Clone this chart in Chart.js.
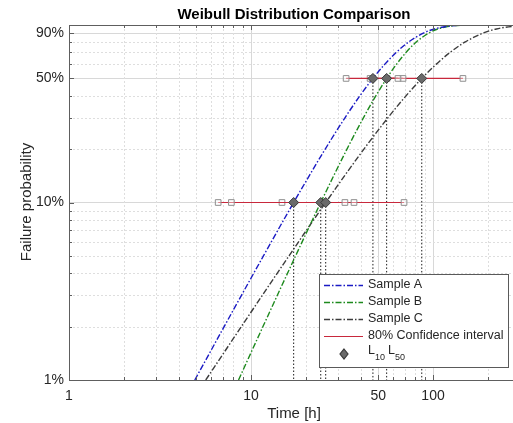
<!DOCTYPE html>
<html>
<head>
<meta charset="utf-8">
<script src="https://cdn.jsdelivr.net/npm/chart.js@4.4.0/dist/chart.umd.min.js"></script>
<style>
  html, body { margin: 0; padding: 0; background: #fff; }
  #wrap { width: 513px; height: 423px; }
</style>
</head>
<body>
<div id="wrap"><canvas id="weibull" width="513" height="423"></canvas></div>
<script>
// failure probability [%] where the fitted lines are sampled
var failPct = [1, 2, 5, 10, 20, 30, 40, 50, 60, 70, 80, 90, 95, 99, 99.9];
// time [h] of each fitted line at those probabilities
var timeA = [4.91, 7.12, 11.7, 17.15, 25.57, 32.82, 39.7, 46.74, 54.2, 62.7, 73.2, 88.5, 101.8, 128.0, 158.8];
var timeB = [8.54, 11.63, 17.57, 24.16, 33.67, 41.44, 48.59, 55.61, 62.9, 71.0, 80.7, 94.6, 106.3, 128.6, 153.8];
var timeC = [5.64, 8.85, 16.16, 25.72, 41.73, 56.5, 71.2, 86.7, 103.9, 123.9, 149.4, 188.3, 223.1, 294.5, 382.7];

var sampleNames = ['Sample A', 'Sample B', 'Sample C'];
// L10 / L50 lives [h]
var L10 = [17.15, 24.16, 25.72];
var L50 = [46.74, 55.61, 86.7];
// 80% confidence bounds [h]
var ci10Low = [7.8, 14.8, 6.6];
var ci10High = [32.8, 36.8, 69.3];
var ci50Low = [33.3, 45.1, 55.9];
var ci50High = [64.2, 68.4, 146];

var xRange = [1, 275];
var yRange = [1, 100];
var xTicks = [1, 10, 50, 100];
var yTicks = [1, 10, 50, 90];
var xMinor = [2, 3, 4, 5, 6, 7, 8, 9, 20, 30, 40, 60, 70, 80, 90, 200];
var yMinor = [2, 3, 4, 5, 6, 7, 8, 9, 20, 30, 40, 60, 70, 80];

var lineColors = ['#1a1ac4', '#1e8a1e', '#3c3c3c'];
var ciColor = '#c8283c';
var dashDot = [6, 2, 1.5, 2];
var txt = '#262626';
var fontFam = '"Liberation Sans", Arial, sans-serif';

var datasets = [];
[timeA, timeB, timeC].forEach(function (times, i) {
  datasets.push({
    label: sampleNames[i],
    data: times.map(function (t, k) { return { x: t, y: failPct[k] }; }),
    borderColor: lineColors[i],
    borderWidth: 1.4,
    borderDash: dashDot,
    pointRadius: 0,
    cubicInterpolationMode: 'monotone',
    order: 3
  });
});

// 80% confidence intervals at 10% and 50%
function ciSet(lo, hi, p) {
  return {
    data: [{ x: lo, y: p }, { x: hi, y: p }],
    borderColor: ciColor,
    borderWidth: 1.2,
    pointStyle: 'rect',
    pointRadius: 4,
    pointBorderWidth: 1,
    pointBorderColor: '#8f8f8f',
    pointBackgroundColor: 'rgba(255,255,255,0.4)',
    order: 1
  };
}
for (var i = 0; i < 3; i++) {
  datasets.push(ciSet(ci10Low[i], ci10High[i], 10));
  datasets.push(ciSet(ci50Low[i], ci50High[i], 50));
}

// dotted drop lines from each life down to the time axis
function dropSet(t, p) {
  return {
    data: [{ x: t, y: p }, { x: t, y: 1 }],
    borderColor: '#1a1a1a',
    borderWidth: 1,
    borderDash: [1.5, 2],
    pointRadius: 0,
    order: 4
  };
}
for (var i = 0; i < 3; i++) {
  datasets.push(dropSet(L10[i], 10));
  datasets.push(dropSet(L50[i], 50));
}

// L10 / L50 markers
var lifePts = [];
for (var i = 0; i < 3; i++) {
  lifePts.push({ x: L10[i], y: 10 });
  lifePts.push({ x: L50[i], y: 50 });
}
datasets.push({
  data: lifePts,
  showLine: false,
  pointStyle: 'rectRot',
  pointRadius: 5,
  pointBorderWidth: 1,
  pointBackgroundColor: '#6a6a6a',
  pointBorderColor: '#383838',
  order: 0
});

var decor = {
  id: 'decor',
  beforeDatasetsDraw: function (chart) {
    var ctx = chart.ctx, a = chart.chartArea;
    var xs = chart.scales.x, ys = chart.scales.y;
    ctx.save();
    ctx.strokeStyle = '#dedede';
    ctx.lineWidth = 1;
    ctx.setLineDash([2, 2]);
    xMinor.forEach(function (v) {
      var px = Math.round(xs.getPixelForValue(v)) + 0.5;
      ctx.beginPath(); ctx.moveTo(px, a.top); ctx.lineTo(px, a.bottom); ctx.stroke();
    });
    yMinor.forEach(function (v) {
      var py = Math.round(ys.getPixelForValue(v)) + 0.5;
      ctx.beginPath(); ctx.moveTo(a.left, py); ctx.lineTo(a.right, py); ctx.stroke();
    });
    ctx.restore();
  },
  afterDatasetsDraw: function (chart) {
    var ctx = chart.ctx, a = chart.chartArea;
    var xs = chart.scales.x, ys = chart.scales.y;
    ctx.save();
    ctx.strokeStyle = '#5e5e5e';
    ctx.lineWidth = 1;
    ctx.beginPath();
    ctx.moveTo(a.right, a.top + 0.5); ctx.lineTo(a.left + 0.5, a.top + 0.5);
    ctx.lineTo(a.left + 0.5, a.bottom + 0.5); ctx.lineTo(a.right, a.bottom + 0.5);
    ctx.stroke();
    // inward tick marks
    function xTick(v, len) {
      var px = Math.round(xs.getPixelForValue(v)) + 0.5;
      ctx.beginPath();
      ctx.moveTo(px, a.bottom); ctx.lineTo(px, a.bottom - len);
      ctx.moveTo(px, a.top); ctx.lineTo(px, a.top + len);
      ctx.stroke();
    }
    function yTick(v, len) {
      var py = Math.round(ys.getPixelForValue(v)) + 0.5;
      ctx.beginPath(); ctx.moveTo(a.left, py); ctx.lineTo(a.left + len, py); ctx.stroke();
    }
    xTicks.forEach(function (v) { xTick(v, 5); });
    xMinor.forEach(function (v) { xTick(v, 3); });
    yTicks.forEach(function (v) { yTick(v, 5); });
    yMinor.forEach(function (v) { yTick(v, 3); });
    ctx.restore();
  },
  afterDraw: function (chart) {
    var ctx = chart.ctx;
    ctx.save();
    ctx.fillStyle = '#000';
    ctx.font = 'bold 15px ' + fontFam;
    ctx.textAlign = 'center';
    ctx.textBaseline = 'middle';
    ctx.fillText('Weibull Distribution Comparison', 294, 15);
    ctx.fillStyle = txt;
    ctx.font = '15px ' + fontFam;
    ctx.fillText('Time [h]', 294, 414);
    ctx.translate(27, 202);
    ctx.rotate(-Math.PI / 2);
    ctx.fillText('Failure probability', 0, 0);
    ctx.restore();

    // legend
    ctx.save();
    var bx = 319.5, by = 274.5, bw = 189, bh = 93;
    ctx.fillStyle = '#fff';
    ctx.fillRect(bx, by, bw, bh);
    ctx.strokeStyle = '#5a5a5a';
    ctx.lineWidth = 1;
    ctx.strokeRect(bx, by, bw, bh);
    ctx.font = '12.5px ' + fontFam;
    ctx.textBaseline = 'middle';
    ctx.textAlign = 'left';
    var rowY = [285, 302, 319, 336];
    var names = sampleNames.concat(['80% Confidence interval']);
    var cols = lineColors.concat([ciColor]);
    for (var r = 0; r < 4; r++) {
      ctx.strokeStyle = cols[r];
      ctx.lineWidth = r < 3 ? 1.4 : 1.2;
      ctx.setLineDash(r < 3 ? dashDot : []);
      ctx.beginPath();
      ctx.moveTo(324, rowY[r] + 0.5); ctx.lineTo(363, rowY[r] + 0.5);
      ctx.stroke();
      ctx.fillStyle = txt;
      ctx.fillText(names[r], 368, rowY[r]);
    }
    ctx.setLineDash([]);
    // diamond entry
    var dy = 354, dx = 344;
    ctx.beginPath();
    ctx.moveTo(dx, dy - 5); ctx.lineTo(dx + 4, dy); ctx.lineTo(dx, dy + 5); ctx.lineTo(dx - 4, dy);
    ctx.closePath();
    ctx.fillStyle = '#6a6a6a'; ctx.fill();
    ctx.strokeStyle = '#383838'; ctx.stroke();
    ctx.fillStyle = txt;
    var tx = 368;
    ctx.font = '12.5px ' + fontFam;
    ctx.fillText('L', tx, 351); tx += ctx.measureText('L').width;
    ctx.font = '9px ' + fontFam;
    ctx.fillText('10', tx, 358); tx += ctx.measureText('10').width + 3;
    ctx.font = '12.5px ' + fontFam;
    ctx.fillText('L', tx, 351); tx += ctx.measureText('L').width;
    ctx.font = '9px ' + fontFam;
    ctx.fillText('50', tx, 358);
    ctx.restore();
  }
};

new Chart(document.getElementById('weibull'), {
  type: 'line',
  data: { datasets: datasets },
  options: {
    responsive: false,
    animation: false,
    layout: { autoPadding: false, padding: { top: 25, right: 0, left: 0, bottom: 0 } },
    plugins: { legend: { display: false }, title: { display: false }, tooltip: { enabled: false } },
    scales: {
      x: {
        type: 'logarithmic',
        min: xRange[0],
        max: xRange[1],
        afterFit: function (s) { s.height = 43; s.paddingRight = 0; s.paddingLeft = 0; },
        afterBuildTicks: function (s) {
          s.ticks = xTicks.map(function (v) { return { value: v }; });
          s.min = xRange[0];
          s.max = xRange[1];
        },
        grid: { color: '#d8d8d8', drawTicks: false },
        border: { display: false },
        ticks: {
          autoSkip: false,
          maxRotation: 0,
          padding: 8,
          color: txt,
          font: { family: fontFam, size: 14 },
          callback: function (v) { return String(v); }
        }
      },
      y: {
        type: 'logarithmic',
        min: yRange[0],
        max: yRange[1],
        afterFit: function (s) { s.width = 69; s.paddingTop = 0; s.paddingBottom = 0; },
        afterBuildTicks: function (s) {
          s.ticks = yTicks.map(function (v) { return { value: v }; });
          s.min = yRange[0];
          s.max = yRange[1];
        },
        grid: { color: '#d8d8d8', drawTicks: false },
        border: { display: false },
        ticks: {
          autoSkip: false,
          padding: 5,
          color: txt,
          font: { family: fontFam, size: 14 },
          callback: function (v) { return v + '%'; }
        }
      }
    }
  },
  plugins: [decor]
});
</script>
</body>
</html>
